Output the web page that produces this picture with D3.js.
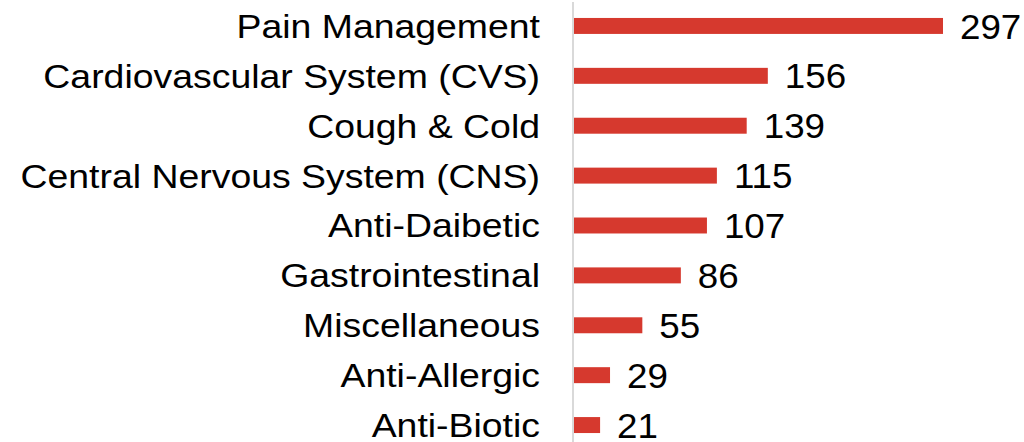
<!DOCTYPE html>
<html>
<head>
<meta charset="utf-8">
<script src="https://cdn.jsdelivr.net/npm/d3@7"></script>
<style>
  body { margin: 0; background: #fff; }
  text { font-family: Arial, "Liberation Sans", sans-serif; fill: #000; }
</style>
</head>
<body>
<div id="chart-area"></div>
<script>
// therapy areas, top to bottom
let categories = ["Pain Management", "Cardiovascular System (CVS)", "Cough & Cold",
  "Central Nervous System (CNS)", "Anti-Daibetic", "Gastrointestinal",
  "Miscellaneous", "Anti-Allergic", "Anti-Biotic"];
let values = [297, 156, 139, 115, 107, 86, 55, 29, 21];

let width = 1024;
let height = 442;
let x0 = 574;

let svg = d3.select("#chart-area")
  .append("svg")
  .attr("width", width)
  .attr("height", height);

let xScale = d3.scaleLinear()
  .domain([0, 297])
  .range([x0, 943]);

let yScale = d3.scaleBand()
  .domain(categories)
  .range([1, 450])
  .paddingInner(0.68)
  .paddingOuter(0.34);

// vertical axis line
svg.append("line")
  .attr("x1", 573).attr("x2", 573)
  .attr("y1", 2).attr("y2", height)
  .attr("stroke", "#d9d9d9")
  .attr("stroke-width", 2);

let data = categories.map(function(c, i){ return { name: c, value: values[i] }; });

svg.selectAll("rect.bar")
  .data(data)
  .enter().append("rect")
  .attr("class", "bar")
  .attr("x", xScale(0))
  .attr("y", function(d){ return yScale(d.name); })
  .attr("width", function(d){ return xScale(d.value) - xScale(0); })
  .attr("height", yScale.bandwidth())
  .attr("fill", "#d6392e");

// category labels (a little wider than the local font, so stretch)
svg.selectAll("text.cat")
  .data(data)
  .enter().append("text")
  .attr("class", "cat")
  .attr("transform", function(d){
    return `translate(540, ${yScale(d.name) + yScale.bandwidth() / 2}) scale(1.1, 1)`;
  })
  .attr("dy", "0.35em")
  .attr("text-anchor", "end")
  .attr("font-size", "34px")
  .text(function(d){ return d.name; });

// value labels
svg.selectAll("text.val")
  .data(data)
  .enter().append("text")
  .attr("class", "val")
  .attr("transform", function(d){
    return `translate(${xScale(d.value) + 17}, ${yScale(d.name) + yScale.bandwidth() / 2}) scale(1.05, 1)`;
  })
  .attr("dy", "0.36em")
  .attr("font-size", "35px")
  .text(function(d){ return d.value; });
</script>
</body>
</html>
